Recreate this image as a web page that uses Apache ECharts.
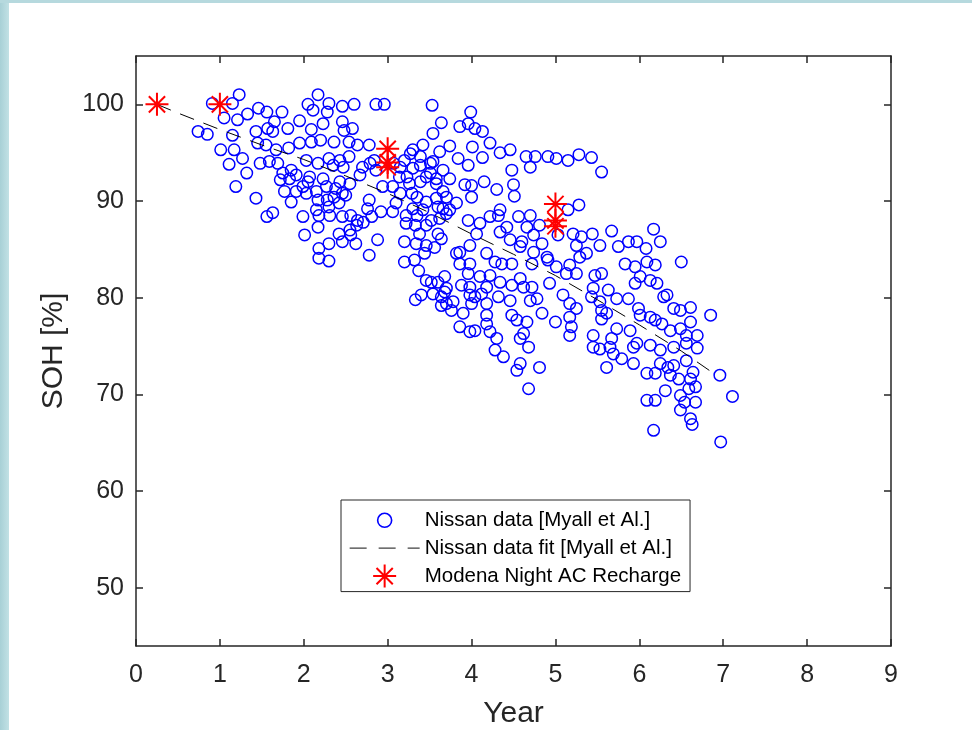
<!DOCTYPE html>
<html><head><meta charset="utf-8">
<script src="https://cdn.jsdelivr.net/npm/echarts@6/dist/echarts.min.js"></script>
<style>html,body{margin:0;padding:0;background:#fff}#c{width:972px;height:730px}</style>
</head><body><div id="c"></div>
<script>
const nissanYear = [
1.23,0.91,1.15,0.74,0.85,1.05,1.21,1.33,1.46,1.56,
1.74,1.65,1.15,1.01,1.17,1.27,1.11,1.32,1.19,1.43,
1.56,1.63,1.43,1.57,1.63,1.81,1.45,1.55,1.67,1.82,
1.48,1.59,1.69,1.72,1.77,1.85,1.75,1.85,1.95,2.05,
2.17,2.11,2.28,2.30,2.46,2.60,2.46,2.23,2.09,2.48,
2.58,1.95,2.09,2.20,2.36,2.54,2.64,2.78,2.03,2.17,
2.30,2.43,2.54,2.70,2.84,2.86,3.20,3.30,2.23,2.07,
1.91,1.83,1.99,1.91,2.03,2.15,2.27,2.38,2.46,2.36,
2.50,2.28,2.17,2.30,2.42,2.78,2.76,2.92,3.06,3.22,
2.56,2.64,2.46,2.18,1.99,2.17,2.01,2.42,2.56,2.46,
2.62,2.88,2.30,2.18,2.78,3.20,3.34,3.10,2.94,3.06,
3.14,3.26,2.86,2.96,2.18,2.30,3.20,3.38,3.46,3.32,
3.37,3.46,3.40,3.33,3.54,3.22,2.55,2.63,2.71,2.31,
2.15,2.81,3.35,3.42,3.33,3.46,3.52,3.62,3.70,3.60,
3.56,3.64,3.44,3.52,3.60,3.68,3.70,3.64,3.70,2.05,
2.55,2.43,2.67,2.47,2.35,2.79,3.15,3.23,3.39,3.51,
3.58,3.35,3.46,3.58,3.66,3.66,3.39,3.51,3.27,3.15,
3.07,3.53,3.99,3.64,3.54,3.86,3.96,4.04,4.13,4.22,
4.01,3.74,3.42,3.30,3.62,3.84,3.96,4.13,4.34,4.46,
4.48,4.50,4.51,4.30,4.15,4.00,3.92,4.00,3.74,3.66,
3.54,3.39,3.58,3.46,3.29,3.70,3.82,3.74,3.60,3.30,
3.96,4.10,4.22,4.34,4.42,4.32,4.06,3.98,3.86,4.18,
4.46,4.56,4.70,4.66,4.74,4.60,4.84,4.74,4.90,4.65,
4.76,4.91,5.01,5.15,5.28,5.43,5.55,4.70,5.15,5.28,
5.03,5.21,5.31,5.44,5.25,5.53,5.67,5.75,5.87,5.97,
6.08,6.17,6.25,5.29,5.37,6.50,5.83,5.95,6.09,6.19,
6.01,5.95,6.13,6.21,6.29,6.33,6.41,6.49,6.61,6.85,
6.61,6.69,6.56,6.49,6.37,6.27,6.19,6.13,6.01,5.99,
5.87,5.73,5.63,5.45,5.53,5.61,5.55,5.73,5.89,5.97,
6.13,6.25,6.41,6.56,6.69,6.96,7.11,6.64,6.56,6.41,
6.34,6.25,6.19,6.09,5.93,5.79,5.69,5.61,5.53,5.67,
5.45,5.65,6.61,6.67,6.31,6.49,6.54,6.67,6.49,6.09,
6.19,6.61,3.68,3.78,3.64,3.76,3.90,4.00,3.86,3.98,
4.04,4.18,4.22,4.30,4.28,4.38,4.58,4.54,4.68,4.81,
4.18,3.88,3.98,4.12,4.48,4.54,4.66,4.62,4.58,4.68,
4.84,5.00,5.17,5.19,5.45,5.93,4.81,5.17,5.13,5.25,
5.47,5.55,5.43,5.55,4.72,4.91,5.01,4.93,5.09,5.17,
5.25,5.17,4.78,4.58,4.34,4.28,4.36,4.48,4.58,4.62,
4.72,4.48,4.34,4.22,4.10,4.18,4.32,4.46,4.70,3.96,
3.86,3.98,3.82,3.98,4.04,4.18,6.37,6.47,6.59,6.63,
6.17,6.97
];
const nissanSOH = [
101.0,100.1,100.1,97.2,96.9,98.6,98.4,99.0,99.6,99.2,
99.2,98.2,96.8,95.3,95.3,94.4,93.8,92.9,91.5,90.3,
88.4,88.8,97.2,97.5,97.2,97.5,96.0,95.8,95.3,95.5,
93.9,94.1,93.9,92.2,91.0,89.9,92.9,93.2,98.3,100.0,
101.0,99.4,99.2,100.1,99.8,100.0,98.2,98.0,97.4,97.3,
97.5,96.0,96.1,96.3,96.1,96.1,95.8,95.8,94.2,93.9,
94.4,94.2,94.6,93.5,94.2,93.2,94.2,93.4,92.3,92.5,
92.7,92.3,91.5,91.0,90.8,91.0,91.5,91.3,90.8,90.4,
90.6,90.1,90.1,89.4,89.8,90.1,89.2,88.9,88.9,88.5,
88.5,88.0,88.4,88.5,88.4,87.3,86.5,86.6,86.5,85.8,
85.6,86.0,85.6,85.1,84.4,85.8,85.6,89.8,91.5,91.5,
92.5,91.8,100.0,100.0,84.1,83.8,83.7,86.6,85.4,83.9,
82.8,81.8,80.3,79.8,80.4,87.7,87.0,87.5,87.8,88.5,
89.1,88.4,88.5,89.1,87.5,87.5,88.0,88.2,88.7,86.6,
85.2,86.1,84.6,81.6,81.6,82.2,81.0,80.1,79.4,92.0,
91.8,92.0,92.7,93.5,93.7,93.9,90.8,92.5,92.0,92.9,
91.8,90.4,89.9,90.3,91.0,89.2,94.6,93.9,94.9,93.5,
93.9,99.9,99.2,98.1,97.0,97.7,98.0,97.5,97.2,96.0,
95.6,95.7,95.8,95.3,95.1,94.4,93.7,94.5,95.0,95.3,
93.2,91.7,90.5,91.2,92.0,91.6,91.7,90.4,92.3,93.2,
94.1,93.7,92.3,92.5,90.8,90.4,89.8,89.1,89.4,89.2,
88.0,87.7,88.4,89.1,87.3,88.5,86.6,85.4,84.7,84.6,
86.0,88.4,88.5,87.3,86.5,85.8,85.6,84.7,84.2,94.6,
94.6,94.6,94.4,94.2,94.8,94.5,93.0,93.5,89.1,89.6,
86.5,86.6,86.3,86.6,85.4,85.4,86.9,85.3,85.8,85.8,
85.1,87.1,85.8,84.2,84.6,83.7,83.5,83.2,83.7,83.4,
82.2,81.5,81.8,81.5,80.1,80.3,78.9,78.7,79.0,78.2,
77.5,76.1,76.1,76.8,76.6,77.3,77.7,78.0,78.2,78.9,
79.9,79.9,80.8,81.0,79.6,78.4,77.8,76.8,76.6,75.3,
75.1,74.6,74.9,75.3,74.8,72.0,69.8,72.3,73.5,73.0,
72.8,73.2,72.2,72.2,73.2,73.7,74.2,72.8,74.7,75.8,
76.1,74.9,71.6,70.8,70.4,69.9,69.2,69.2,68.4,69.4,
69.4,67.5,80.6,79.6,79.2,78.7,78.4,79.4,77.0,76.5,
76.6,77.3,76.5,75.8,74.6,73.9,73.2,72.5,70.6,72.8,
78.2,81.3,80.3,80.4,78.2,77.7,77.5,76.3,75.8,74.9,
78.4,77.5,76.1,77.0,74.9,74.9,87.5,83.4,82.5,82.5,
82.3,82.5,80.1,78.7,83.5,83.9,83.2,81.5,80.3,79.4,
78.9,78.0,79.9,85.3,86.8,83.7,83.5,83.5,82.0,81.1,
81.1,81.3,81.6,82.3,82.2,81.1,80.1,79.7,79.7,82.5,
83.5,83.5,84.6,81.1,80.1,79.4,72.0,71.6,70.6,66.9,
66.3,65.1
];
const fitYear = [0.25,0.5,1,1.5,2,2.5,3,3.5,4,4.5,5,5.5,6,6.5,6.9];
const fitSOH = [100,99.1,97.4,95.8,94.3,92.6,90.8,88.8,86.6,84.5,82.3,79.8,77.2,74.5,72.1];
const modenaYear = [0.25,1,3,3,3,5,5,5];
const modenaSOH = [100,100,95.4,94.0,93.5,89.7,88.0,87.4];
const xTicks = [0,1,2,3,4,5,6,7,8,9];
const yTicks = [50,60,70,80,90,100];
const seriesNames = ['Nissan data [Myall et Al.]','Nissan data fit [Myall et Al.]','Modena Night AC Recharge'];
const xTitle = 'Year';
const yTitle = 'SOH [%]';

const FONT = '"Liberation Sans", Arial, Helvetica, sans-serif';
const AX = '#262626';
const STAR = 'path://M0,-10L0,10M-10,0L10,0M-7.07,-7.07L7.07,7.07M-7.07,7.07L7.07,-7.07';
const RING = 'path://M-11.5,-11.5M11.5,11.5M7,0A7,7,0,1,1,-7,0A7,7,0,1,1,7,0Z';

const zip = (a, b) => a.map((v, i) => [v, b[i]]);

function axisCommon(){
  return {
    axisLine:{show:true,onZero:false,lineStyle:{color:AX,width:1.5}},
    axisTick:{show:true,inside:true,length:7,lineStyle:{color:AX,width:1.5}},
    splitLine:{show:false}
  };
}

const chart = echarts.init(document.getElementById('c'), null, {renderer:'canvas'});
chart.setOption({
  backgroundColor:'#ffffff',
  animation:false,
  graphic:[
    {type:'rect',left:0,top:0,z:-1,shape:{width:9,height:730},
     style:{fill:new echarts.graphic.LinearGradient(0,0,1,0,[{offset:0,color:'#a8d0d6'},{offset:1,color:'#c2e1e5'}])}},
    {type:'rect',left:0,top:0,z:-1,shape:{width:972,height:3},style:{fill:'#b6d9de'}}
  ],
  grid:{left:136,top:56,right:81,bottom:84,containLabel:false,outerBoundsMode:'none'},
  xAxis:[
    Object.assign(axisCommon(),{
      type:'value',min:0,max:9,interval:1,position:'bottom',
      axisLabel:{show:true,fontSize:25,color:AX,fontFamily:FONT,margin:17,customValues:xTicks},
      name:xTitle,nameLocation:'middle',nameGap:53,
      nameTextStyle:{fontSize:30,color:AX,fontFamily:FONT}
    }),
    Object.assign(axisCommon(),{
      type:'value',min:0,max:9,interval:1,position:'top',
      axisLabel:{show:false}
    })
  ],
  yAxis:[
    Object.assign(axisCommon(),{
      type:'value',min:44,max:105,position:'left',
      axisTick:{show:true,inside:true,length:7,lineStyle:{color:AX,width:1.5},customValues:yTicks},
      axisLabel:{show:true,fontSize:25,color:AX,fontFamily:FONT,margin:12,customValues:yTicks},
      name:yTitle,nameLocation:'middle',nameGap:67,nameRotate:90,
      nameTextStyle:{fontSize:30,color:AX,fontFamily:FONT}
    }),
    Object.assign(axisCommon(),{
      type:'value',min:44,max:105,position:'right',
      axisTick:{show:true,inside:true,length:7,lineStyle:{color:AX,width:1.5},customValues:yTicks},
      axisLabel:{show:false}
    })
  ],
  legend:{
    left:341,top:500,orient:'vertical',
    padding:[8,9,3,8],itemWidth:70,itemHeight:23,itemGap:5,
    backgroundColor:'#ffffff',borderColor:AX,borderWidth:1,borderRadius:0,
    textStyle:{fontSize:20.5,color:'#000',fontFamily:FONT},
    selectedMode:false,
    data:[
      {name:seriesNames[0],icon:RING,itemStyle:{color:'rgba(0,0,0,0)',borderColor:'#0000ff',borderWidth:1.6}},
      {name:seriesNames[1],lineStyle:{width:1.3,color:'#404040',type:[17,12]},
       itemStyle:{color:'rgba(0,0,0,0)',borderColor:'rgba(0,0,0,0)',borderWidth:0,opacity:0}},
      {name:seriesNames[2],icon:STAR,itemStyle:{color:'#ff0000',borderColor:'#ff0000',borderWidth:2}}
    ]
  },
  series:[
    {name:seriesNames[0],type:'scatter',data:zip(nissanYear,nissanSOH),
     symbol:'circle',symbolSize:11.5,z:2,
     itemStyle:{color:'rgba(0,0,0,0)',borderColor:'#0000ff',borderWidth:1.5,opacity:1},
     emphasis:{disabled:true}},
    {name:seriesNames[1],type:'line',data:zip(fitYear,fitSOH),
     symbol:'none',showSymbol:false,smooth:false,z:3,
     itemStyle:{color:'rgba(0,0,0,0)'},
     lineStyle:{color:'#000000',width:1,type:[15,10]},
     emphasis:{disabled:true}},
    {name:seriesNames[2],type:'scatter',data:zip(modenaYear,modenaSOH),
     symbol:STAR,symbolSize:23,z:4,
     itemStyle:{color:'#ff0000',borderColor:'#ff0000',borderWidth:2,opacity:1},
     emphasis:{disabled:true}}
  ]
});
</script>
</body></html>
